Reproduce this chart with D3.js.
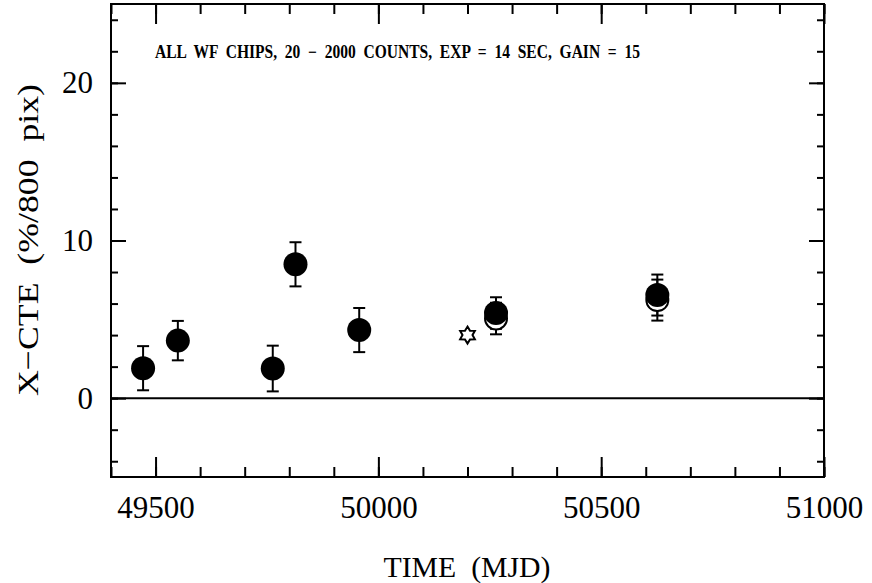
<!DOCTYPE html>
<html>
<head>
<meta charset="utf-8">
<script src="https://cdn.jsdelivr.net/npm/d3@7"></script>
<style>
  body { margin: 0; background: #fff; }
  svg { display: block; }
  text { white-space: pre; }
  .tick text { font-family: "Liberation Serif", serif; }
</style>
</head>
<body>
<div id="chart"></div>
<script>
// filled circles: all WF chips
const mjd = [49472, 49550, 49763, 49814, 49957, 50264, 50626];
const cte = [1.9, 3.65, 1.88, 8.49, 4.32, 5.4, 6.54];
const cteErr = [1.4, 1.25, 1.45, 1.4, 1.4, 1.0, 1.3];

// open circles
const openMjd = [50264, 50626];
const openCte = [5.05, 6.22];
const openErr = [1.0, 1.3];

// star
const starMjd = [50200];
const starCte = [4.0];

const xMajor = [49500, 50000, 50500, 51000];
const yMajor = [0, 10, 20];

const title = "ALL  WF  CHIPS,  20  \u2212  2000  COUNTS,  EXP  =  14  SEC,  GAIN  =  15";

const W = 872, H = 583;
const margin = {top: 4, right: 48, bottom: 106, left: 111},
    width = W - margin.left - margin.right,
    height = H - margin.top - margin.bottom;

const svg = d3.select("#chart").append("svg")
    .attr("width", W).attr("height", H)
    .append("g")
    .attr("transform", `translate(${margin.left},${margin.top})`);

const x = d3.scaleLinear().domain([49400, 51000]).range([0, width]);
const y = d3.scaleLinear().domain([-5, 25]).range([height, 0]);

const xMinor = d3.range(49400, 51001, 100);
const yMinor = d3.range(-4, 25, 2);

function ticks(axis, vals, size, transform) {
    const g = svg.append("g")
        .attr("transform", transform)
        .call(axis.tickValues(vals).tickSize(size).tickFormat(""));
    g.select(".domain").remove();
    g.selectAll("line").attr("stroke", "#000").attr("stroke-width", 2);
    return g;
}

// minor ticks
ticks(d3.axisTop(x), xMinor, 10, `translate(0,${height})`);
ticks(d3.axisBottom(x), xMinor, 10, "translate(0,0)");
ticks(d3.axisRight(y), yMinor, 7, "translate(0,0)");
ticks(d3.axisLeft(y), yMinor, 7, `translate(${width},0)`);
// major ticks
ticks(d3.axisTop(x), xMajor, 20, `translate(0,${height})`);
ticks(d3.axisBottom(x), xMajor, 20, "translate(0,0)");
ticks(d3.axisRight(y), yMajor, 15, "translate(0,0)");
ticks(d3.axisLeft(y), yMajor, 15, `translate(${width},0)`);

// tick labels
const xl = svg.append("g")
    .attr("transform", `translate(0,${height})`)
    .call(d3.axisBottom(x).tickValues(xMajor).tickSize(0).tickPadding(19).tickFormat(d3.format("d")));
xl.select(".domain").remove();
xl.selectAll("text").attr("font-size", 31).attr("fill", "#000");

const yl = svg.append("g")
    .call(d3.axisLeft(y).tickValues(yMajor).tickSize(0).tickPadding(18).tickFormat(d3.format("d")));
yl.select(".domain").remove();
yl.selectAll("text").attr("font-size", 31).attr("fill", "#000");

// frame
svg.append("rect")
    .attr("width", width).attr("height", height)
    .attr("fill", "none").attr("stroke", "#000").attr("stroke-width", 2);

// zero line
svg.append("line")
    .attr("x1", 0).attr("x2", width)
    .attr("y1", y(0)).attr("y2", y(0))
    .attr("stroke", "#000").attr("stroke-width", 2);

// error bars
function errBars(xs, ys, es) {
    const g = svg.append("g").attr("stroke", "#000").attr("stroke-width", 2);
    xs.forEach((d, i) => {
        const cx = x(d), top = y(ys[i] + es[i]), bot = y(ys[i] - es[i]);
        g.append("line").attr("x1", cx).attr("x2", cx).attr("y1", top).attr("y2", bot);
        g.append("line").attr("x1", cx - 6).attr("x2", cx + 6).attr("y1", top).attr("y2", top);
        g.append("line").attr("x1", cx - 6).attr("x2", cx + 6).attr("y1", bot).attr("y2", bot);
    });
}
errBars(openMjd, openCte, openErr);
errBars(mjd, cte, cteErr);

// open circles
svg.selectAll(".open").data(openMjd).enter().append("circle")
    .attr("cx", d => x(d))
    .attr("cy", (d, i) => y(openCte[i]))
    .attr("r", 11)
    .attr("fill", "#fff").attr("stroke", "#000").attr("stroke-width", 2);

// filled circles
svg.selectAll(".filled").data(mjd).enter().append("circle")
    .attr("cx", d => x(d))
    .attr("cy", (d, i) => y(cte[i]))
    .attr("r", 12)
    .attr("fill", "#000");

// star
const star = d3.symbol().type({
    draw(ctx, size) {
        const ro = 8.5, ri = 5;
        for (let k = 0; k < 12; k++) {
            const r = k % 2 === 0 ? ro : ri;
            const a = -Math.PI / 2 + k * Math.PI / 6;
            if (k === 0) ctx.moveTo(r * Math.cos(a), r * Math.sin(a));
            else ctx.lineTo(r * Math.cos(a), r * Math.sin(a));
        }
        ctx.closePath();
    }
});
svg.selectAll(".star").data(starMjd).enter().append("path")
    .attr("d", star())
    .attr("transform", (d, i) => `translate(${x(d)},${y(starCte[i])})`)
    .attr("fill", "#fff").attr("stroke", "#000").attr("stroke-width", 2);

// title inside plot
svg.append("text")
    .attr("x", 155 - margin.left)
    .attr("y", 58 - margin.top)
    .attr("font-family", "Liberation Serif, serif")
    .attr("font-weight", "bold")
    .attr("font-size", 18)
    .attr("textLength", 485)
    .attr("lengthAdjust", "spacingAndGlyphs")
    .text(title);

// axis labels
svg.append("text")
    .attr("x", 467 - margin.left)
    .attr("y", 577 - margin.top)
    .attr("text-anchor", "middle")
    .attr("font-family", "Liberation Serif, serif")
    .attr("font-size", 30)
    .attr("textLength", 167)
    .attr("lengthAdjust", "spacingAndGlyphs")
    .text("TIME  (MJD)");

svg.append("text")
    .attr("transform", `translate(${38 - margin.left},${240 - margin.top}) rotate(-90)`)
    .attr("text-anchor", "middle")
    .attr("font-family", "Liberation Serif, serif")
    .attr("font-size", 30)
    .attr("textLength", 312)
    .attr("lengthAdjust", "spacingAndGlyphs")
    .text("X\u2212CTE  (%/800  pix)");
</script>
</body>
</html>
